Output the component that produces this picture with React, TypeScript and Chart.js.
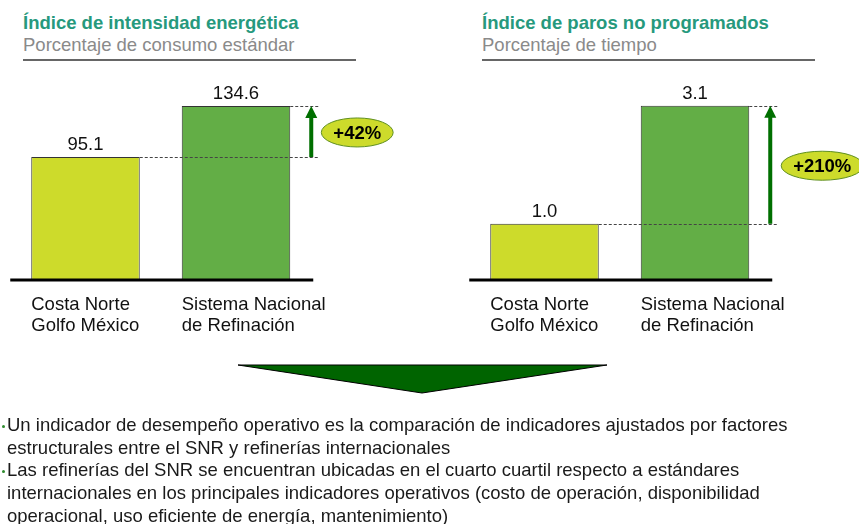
import React, { useEffect, useRef } from "react";
import { Chart, registerables } from "chart.js";
Chart.register(...registerables);

// ---- data ----
const categoryLines: string[][] = [
  ["Costa Norte", "Golfo México"],
  ["Sistema Nacional", "de Refinación"],
];
const energyValues = [95.1, 134.6];
const stopValues = [1.0, 3.1];
const energyChange = "+42%";
const stopChange = "+210%";
const energyTitle = "Índice de intensidad energética";
const energySubtitle = "Porcentaje de consumo estándar";
const stopTitle = "Índice de paros no programados";
const stopSubtitle = "Porcentaje de tiempo";
const bulletLines: { text: string; bullet: boolean }[] = [
  { text: "Un indicador de desempeño operativo es la comparación de indicadores ajustados por factores", bullet: true },
  { text: "estructurales entre el SNR y refinerías internacionales", bullet: false },
  { text: "Las refinerías del SNR se encuentran ubicadas en el cuarto cuartil respecto a estándares", bullet: true },
  { text: "internacionales en los principales indicadores operativos (costo de operación, disponibilidad", bullet: false },
  { text: "operacional, uso eficiente de energía, mantenimiento)", bullet: false },
];

const barColors = ["#cddb2b", "#63ae46"];
const FONT = '"Liberation Sans", Arial, Helvetica, sans-serif';
const FS = 18.5;

function makeAnnotations(changeLabel: string, ellipseDx: number, labels: string[][]) {
  return {
    id: "annot",
    afterDatasetsDraw(chart: any) {
      const ctx = chart.ctx as CanvasRenderingContext2D;
      const area = chart.chartArea;
      const bars = chart.getDatasetMeta(0).data as any[];
      const ds = chart.data.datasets[0].data as number[];
      const b0 = bars[0];
      const b1 = bars[1];
      const w = b0.width;
      const base = b0.base;
      const ax = area.right;
      ctx.save();
      // dashed reference lines
      ctx.setLineDash([3, 2]);
      ctx.lineWidth = 1;
      ctx.strokeStyle = "#444";
      ctx.beginPath();
      ctx.moveTo(b0.x + w / 2, Math.round(b0.y) + 0.5);
      ctx.lineTo(ax + 7, Math.round(b0.y) + 0.5);
      ctx.moveTo(b1.x + w / 2, Math.round(b1.y) + 0.5);
      ctx.lineTo(ax + 7, Math.round(b1.y) + 0.5);
      ctx.stroke();
      ctx.setLineDash([]);
      // baseline
      ctx.lineWidth = 3;
      ctx.strokeStyle = "#000";
      ctx.beginPath();
      ctx.moveTo(area.left, base);
      ctx.lineTo(area.right + 2, base);
      ctx.stroke();
      // arrow
      const top = b1.y;
      const bottom = b0.y;
      ctx.fillStyle = "#006f00";
      ctx.fillRect(ax - 2, top + 11, 4, bottom - top - 11);
      ctx.beginPath();
      ctx.moveTo(ax, top);
      ctx.lineTo(ax + 6, top + 12);
      ctx.lineTo(ax - 6, top + 12);
      ctx.closePath();
      ctx.fill();
      // ellipse badge
      ctx.font = `bold ${FS}px ${FONT}`;
      const tw = ctx.measureText(changeLabel).width;
      const cx = ax + ellipseDx;
      const cy = (top + bottom) / 2 + 1;
      ctx.beginPath();
      ctx.ellipse(cx, cy, tw / 2 + 12, 14.5, 0, 0, Math.PI * 2);
      ctx.fillStyle = "#cddb2b";
      ctx.fill();
      ctx.lineWidth = 1;
      ctx.strokeStyle = "#5f8f1f";
      ctx.stroke();
      ctx.fillStyle = "#000";
      ctx.textAlign = "center";
      ctx.textBaseline = "middle";
      ctx.fillText(changeLabel, cx, cy + 1);
      // value labels
      ctx.font = `${FS}px ${FONT}`;
      ctx.textBaseline = "alphabetic";
      ctx.fillStyle = "#111";
      bars.forEach((b, i) => {
        ctx.fillText(ds[i].toFixed(1), b.x, b.y - 7);
      });
      // category labels
      ctx.textAlign = "left";
      bars.forEach((b, i) => {
        labels[i].forEach((line, j) => {
          ctx.fillText(line, b.x - w / 2, base + 30 + j * 21);
        });
      });
      ctx.restore();
    },
  };
}

function BarPanel(props: {
  left: number;
  width: number;
  values: number[];
  change: string;
  dx: number;
  max: number;
  padLeft: number;
  padRight: number;
}) {
  const ref = useRef<HTMLCanvasElement | null>(null);
  useEffect(() => {
    if (!ref.current) return;
    const chart = new Chart(ref.current, {
      type: "bar",
      data: {
        labels: categoryLines.map((l) => l.join(" ")),
        datasets: [
          {
            data: props.values,
            backgroundColor: barColors,
            borderColor: "#333",
            borderWidth: 1,
            categoryPercentage: 1,
            barPercentage: 0.721,
          },
        ],
      },
      options: {
        responsive: false,
        animation: false,
        layout: { padding: { left: props.padLeft, right: props.padRight, top: 26, bottom: 70 } },
        plugins: { legend: { display: false }, tooltip: { enabled: false }, title: { display: false } },
        scales: {
          x: { display: false, offset: true, grid: { display: false } },
          y: { display: false, min: 0, max: props.max, grid: { display: false } },
        },
      },
      plugins: [makeAnnotations(props.change, props.dx, categoryLines)],
    } as any);
    return () => chart.destroy();
  }, []);
  return (
    <canvas
      ref={ref}
      width={props.width}
      height={290}
      style={{ position: "absolute", left: props.left, top: 60, width: props.width, height: 290 }}
    />
  );
}

function Heading(props: { left: number; title: string; subtitle: string }) {
  return (
    <>
      <div
        style={{
          position: "absolute",
          left: props.left,
          top: 13,
          font: `bold ${FS}px ${FONT}`,
          lineHeight: "20px",
          color: "#26997d",
          whiteSpace: "nowrap",
        }}
      >
        {props.title}
      </div>
      <div
        style={{
          position: "absolute",
          left: props.left,
          top: 35,
          font: `${FS}px ${FONT}`,
          lineHeight: "20px",
          color: "#8a8a8a",
          whiteSpace: "nowrap",
        }}
      >
        {props.subtitle}
      </div>
      <div
        style={{
          position: "absolute",
          left: props.left,
          top: 59,
          width: 333,
          height: 2,
          background: "#666",
        }}
      />
    </>
  );
}

export default function App() {
  return (
    <div
      style={{
        position: "absolute",
        left: 0,
        top: 0,
        width: 859,
        height: 524,
        overflow: "hidden",
        background: "#fff",
        fontFamily: FONT,
      }}
    >
      <Heading left={23} title={energyTitle} subtitle={energySubtitle} />
      <Heading left={482} title={stopTitle} subtitle={stopSubtitle} />
      <BarPanel left={0} width={430} values={energyValues} change={energyChange} dx={46} max={150} padLeft={10.25} padRight={118.75} />
      <BarPanel left={430} width={429} values={stopValues} change={stopChange} dx={52} max={3.45} padLeft={39.25} padRight={88.75} />
      <svg
        width={859}
        height={524}
        style={{ position: "absolute", left: 0, top: 0, pointerEvents: "none" }}
      >
        <polygon points="238,365 607,365 422,393" fill="#006400" stroke="#000" strokeWidth={1} />
      </svg>
      <div style={{ position: "absolute", left: 0, top: 414, width: 859 }}>
        {bulletLines.map((l, i) => (
          <div
            key={i}
            style={{
              position: "relative",
              paddingLeft: 7,
              font: `${FS}px ${FONT}`,
              lineHeight: "22.7px",
              height: 22.7,
              color: "#1a1a1a",
              whiteSpace: "nowrap",
            }}
          >
            {l.bullet && (
              <span
                style={{
                  position: "absolute",
                  left: 1.5,
                  top: 10.5,
                  width: 3.5,
                  height: 3.5,
                  borderRadius: 2,
                  background: "#2e8b2e",
                }}
              />
            )}
            {l.text}
          </div>
        ))}
      </div>
    </div>
  );
}
